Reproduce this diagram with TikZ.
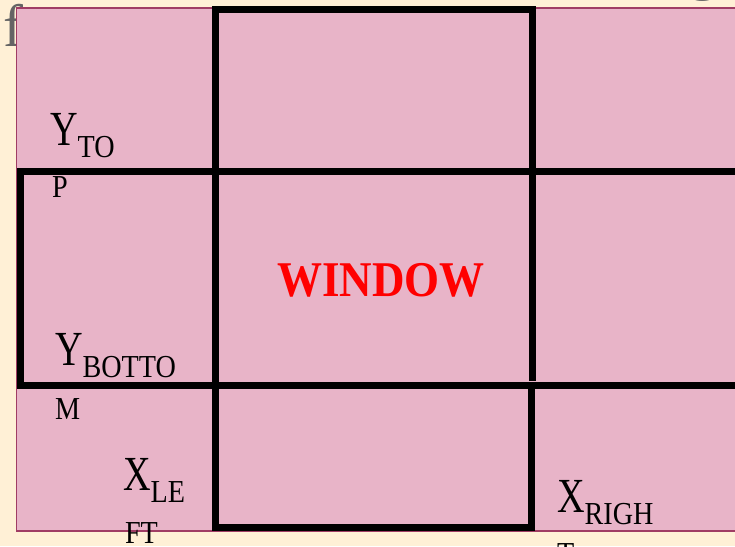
\documentclass[tikz,border=0pt]{standalone}
\usepackage{fontspec}
\setmainfont{Liberation Serif}
\newfontfamily\lblbig[FakeStretch=0.78]{Liberation Serif}
\newfontfamily\lblsmall[FakeStretch=0.88]{Liberation Serif}
\newfontfamily\winfont[FakeStretch=0.9]{Liberation Serif}
\definecolor{cream}{RGB}{255,240,214}
\definecolor{pinkfill}{RGB}{232,180,200}
\definecolor{pinkedge}{RGB}{160,60,100}
\definecolor{titlegrey}{RGB}{100,100,100}
\tikzset{
  gridline/.style={draw=black, line width=7pt, line cap=rect, line join=miter},
  lbl/.style={anchor=base west, inner sep=0pt, outer sep=0pt, text=black},
  ghost/.style={anchor=base west, inner sep=0pt, text=titlegrey, font=\fontsize{60}{60}\selectfont},
}
\newcommand{\bigtxt}[1]{{\lblbig\fontsize{49}{49}\selectfont #1}}
\newcommand{\smalltxt}[1]{{\lblsmall\fontsize{32}{32}\selectfont #1}}
\begin{document}
\begin{tikzpicture}[x=1pt,y=-1pt]
  \clip (0,0) rectangle (735,546);
  \fill[cream] (0,0) rectangle (735,546);
  % title text partly hidden behind the panel
  \node[ghost] (tf) at (3,46) {f};
  \node[ghost] (tg) at (688,-12) {g};
  % pink panel
  \filldraw[fill=pinkfill, draw=pinkedge, line width=1.8pt] (16.5,8) rectangle (760,531);
  % window column
  \draw[gridline] (215.5,9.5) -- (532,9.5);
  \draw[gridline] (215.5,9.5) -- (215.5,527);
  \draw[gridline] (532,9.5) -- (532,377);
  \draw[gridline] (531,386) -- (531,527) -- (215.5,527);
  % window row
  \draw[gridline] (760,171) -- (20.5,171) -- (20.5,385.5) -- (760,385.5);
  % labels
  \node[lbl] (ytop) at (50,145) {\bigtxt{Y}\raisebox{-12pt}{\smalltxt{TO}}};
  \node[lbl] (ytopP) at (52,197) {\smalltxt{P}};
  \node[lbl] (ybot) at (55,365) {\bigtxt{Y}\raisebox{-12pt}{\smalltxt{BOTTO}}};
  \node[lbl] (ybotM) at (55,419) {\smalltxt{M}};
  \node[lbl] (xleft) at (123,490) {\bigtxt{X}\raisebox{-12pt}{\smalltxt{LE}}};
  \node[lbl] (xleftFT) at (125,543) {\smalltxt{FT}};
  \node[lbl] (xright) at (557,512) {\bigtxt{X}\raisebox{-12pt}{\smalltxt{RIGH}}};
  \node[lbl] (xrightT) at (557,564) {\smalltxt{T}};
  \node[anchor=base, inner sep=0pt, text={rgb,255:red,255;green,0;blue,0}] (win) at (381,296)
    {\winfont\bfseries\fontsize{50}{50}\selectfont WINDOW};
\end{tikzpicture}
\end{document}
